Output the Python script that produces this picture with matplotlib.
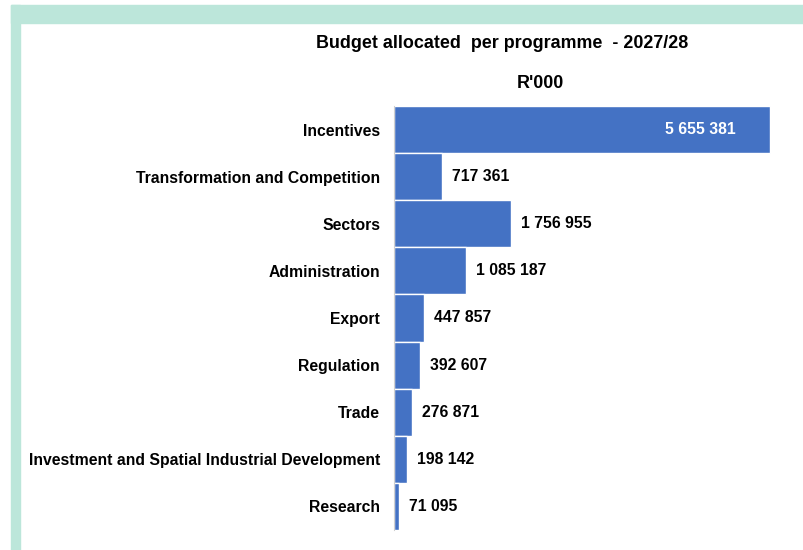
import matplotlib.pyplot as plt
from matplotlib.patches import Rectangle

plt.rcParams['font.family'] = ['Liberation Sans', 'DejaVu Sans']

# programme names and budget (R'000)
programmes = ['Incentives', 'Transformation and Competition', 'Sectors',
              'Administration', 'Export', 'Regulation', 'Trade',
              'Investment and Spatial Industrial Development', 'Research']
budget = [5655381, 717361, 1756955, 1085187, 447857, 392607, 276871, 198142, 71095]
value_labels = ['5 655 381', '717 361', '1 756 955', '1 085 187', '447 857',
                '392 607', '276 871', '198 142', '71 095']

W, H = 804, 550
fig = plt.figure(figsize=(W / 100, H / 100), dpi=100)

# mint frame along top and left
mint = '#BCE6DA'
fig.patches.append(Rectangle((11 / W, 1 - 23 / H), 1 - 11 / W, 18 / H,
                             transform=fig.transFigure, color=mint, zorder=0))
fig.patches.append(Rectangle((11 / W, 0), 9 / W, 1 - 5 / H,
                             transform=fig.transFigure, color=mint, zorder=0))

left, right = 394, 800
top, bottom = 106, 530
ax = fig.add_axes([left / W, 1 - bottom / H, (right - left) / W, (bottom - top) / H])
xmax = budget[0] * (right - left) / (770 - left)

pos = list(range(len(programmes)))
ax.barh(pos, budget, height=1.0, color='#4472C4', edgecolor='white', linewidth=1)
ax.set_xlim(0, xmax)
ax.set_ylim(len(programmes) - 0.5, -0.5)

ax.set_yticks(pos)
ax.set_yticklabels(programmes, fontsize=11.3, fontweight='bold')
ax.tick_params(axis='y', length=0, pad=10)
ax.set_xticks([])
for s in ['top', 'right', 'bottom']:
    ax.spines[s].set_visible(False)
ax.spines['left'].set_color('#D0D0D0')

px = xmax / (right - left)
for i, (v, lab) in enumerate(zip(budget, value_labels)):
    if i == 0:
        ax.text(v - 34 * px, i, lab, ha='right', va='center', color='white',
                fontsize=11.3, fontweight='bold')
    else:
        ax.text(v + 10 * px, i, lab, ha='left', va='center', color='black',
                fontsize=11.3, fontweight='bold')

fig.text(502 / W, 1 - 44 / H, 'Budget allocated  per programme  - 2027/28',
         ha='center', va='center', fontsize=12.9, fontweight='bold')
fig.text(540 / W, 1 - 83 / H, "R'000", ha='center', va='center',
         fontsize=12.9, fontweight='bold')

fig.savefig('out.png', dpi=100)
